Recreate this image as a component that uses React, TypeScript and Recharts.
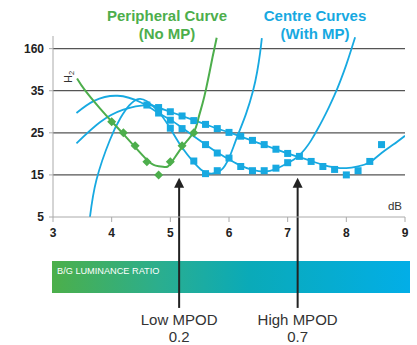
import React from "react";
import { ComposedChart, Line, Scatter, XAxis, YAxis, CartesianGrid, ReferenceLine } from "recharts";

// y values are plotted on an evenly spaced index scale: 5 -> 0, 15 -> 1, 25 -> 2, 35 -> 3, 160 -> 4
const yLabels = ["5", "15", "25", "35", "160"];
const xTicks = [3, 4, 5, 6, 7, 8, 9];

// fitted curves [dB, index]
const peripheralCurve = [
  [3.41, 3.29], [3.55, 3.0], [3.8, 2.58], [4.0, 2.27], [4.2, 1.97], [4.4, 1.66], [4.6, 1.36],
  [4.75, 1.22], [4.9, 1.19], [5.0, 1.26], [5.2, 1.66], [5.4, 2.02], [5.48, 2.35], [5.55, 2.7],
  [5.61, 3.05], [5.67, 3.45], [5.72, 3.8], [5.76, 4.06], [5.79, 4.26],
];
const lowCurve = [
  [3.63, 0], [3.74, 0.88], [3.97, 1.83], [4.15, 2.35], [4.3, 2.65], [4.45, 2.8], [4.6, 2.75],
  [4.8, 2.5], [5.0, 2.1], [5.2, 1.65], [5.4, 1.3], [5.55, 1.1], [5.7, 1.03], [5.85, 1.1],
  [5.93, 1.22], [6.0, 1.4], [6.08, 1.68], [6.16, 1.98], [6.29, 2.45], [6.41, 3.0], [6.48, 3.45],
  [6.53, 3.9], [6.56, 4.25],
];
const midCurve = [
  [3.4, 2.47], [3.7, 2.76], [4.1, 2.88], [4.5, 2.72], [4.8, 2.47], [5.0, 2.31], [5.2, 2.12],
  [5.4, 1.92], [5.6, 1.72], [5.8, 1.53], [6.0, 1.37], [6.2, 1.22], [6.4, 1.12], [6.6, 1.08],
  [6.8, 1.14], [7.0, 1.28], [7.1, 1.36], [7.2, 1.47], [7.3, 1.62], [7.4, 1.82], [7.5, 2.06],
  [7.6, 2.32], [7.7, 2.6], [7.8, 2.9], [7.9, 3.24], [8.0, 3.62], [8.08, 3.96], [8.15, 4.27],
];
const highCurve = [
  [3.4, 1.75], [3.8, 2.25], [4.2, 2.55], [4.6, 2.66], [4.8, 2.6], [5.0, 2.5], [5.2, 2.4],
  [5.4, 2.3], [5.6, 2.2], [5.8, 2.1], [6.0, 2.01], [6.2, 1.91], [6.4, 1.81], [6.6, 1.71],
  [6.8, 1.61], [7.0, 1.51], [7.2, 1.42], [7.4, 1.33], [7.6, 1.24], [7.8, 1.18], [8.0, 1.16],
  [8.2, 1.2], [8.4, 1.3], [8.6, 1.52], [8.8, 1.72], [9.0, 1.93],
];

// measured points
const peripheralPoints = [
  [4.0, 2.26], [4.2, 2.0], [4.4, 1.69], [4.6, 1.31], [4.8, 1.0], [5.0, 1.31], [5.2, 1.69], [5.4, 2.0],
];
const lowPoints = [[4.6, 2.66], [4.8, 2.47], [5.0, 2.11], [5.4, 1.33], [5.6, 1.03], [5.8, 1.1], [6.0, 1.4]];
const midPoints = [
  [5.0, 2.3], [5.2, 2.1], [5.6, 1.72], [5.8, 1.52], [6.2, 1.2], [6.4, 1.1], [6.6, 1.1],
  [6.8, 1.16], [7.0, 1.29], [7.2, 1.44],
];
const highPoints = [
  [4.8, 2.6], [5.0, 2.5], [5.2, 2.4], [5.4, 2.29], [5.6, 2.2], [5.8, 2.1], [6.0, 2.01], [6.2, 1.92],
  [6.4, 1.82], [6.6, 1.72], [6.8, 1.61], [7.0, 1.51], [7.4, 1.32], [7.6, 1.2], [7.8, 1.13],
  [8.0, 1.0], [8.2, 1.1], [8.4, 1.32], [8.6, 1.72],
];

const mpodMarkers = [
  { x: 5.15, tip: 0.93, label: "Low MPOD", value: "0.2" },
  { x: 7.17, tip: 0.93, label: "High MPOD", value: "0.7" },
];

const BLUE = "#17A9E1";
const GREEN = "#4DAE4C";
const FONT = "'Liberation Sans', Arial, Helvetica, sans-serif";

const toRows = (pts: number[][]) => pts.map(([x, y]) => ({ x, y }));

const square = (p: any) => <rect x={p.cx - 3.5} y={p.cy - 3.5} width={7} height={7} fill={BLUE} />;
const diamond = (p: any) => (
  <polygon
    points={`${p.cx},${p.cy - 4.5} ${p.cx + 4.5},${p.cy} ${p.cx},${p.cy + 4.5} ${p.cx - 4.5},${p.cy}`}
    fill={GREEN}
  />
);

function arrow(label: string, value: string) {
  return (p: any) => {
    const { x1, y1, y2 } = p;
    return (
      <g>
        <line x1={x1} y1={y1 + 8} x2={x1} y2={y2} stroke="#222" strokeWidth={2} />
        <polygon points={`${x1},${y1} ${x1 + 5},${y1 + 10} ${x1 - 5},${y1 + 10}`} fill="#222" />
        <text x={x1} y={y2 + 17} textAnchor="middle" fontSize={15} fill="#333" fontFamily={FONT}>
          {label}
        </text>
        <text x={x1} y={y2 + 34} textAnchor="middle" fontSize={15} fill="#333" fontFamily={FONT}>
          {value}
        </text>
      </g>
    );
  };
}

export default function App() {
  const tickStyle = { fill: "#222", fontSize: 12, fontWeight: 700, fontFamily: FONT };
  return (
    <div style={{ position: "absolute", left: 0, top: 0, width: 417, height: 345, background: "#fff" }}>
      <svg width={417} height={345} style={{ position: "absolute", left: 0, top: 0 }}>
        <defs>
          <linearGradient id="bg" x1="0" x2="1" y1="0" y2="0">
            <stop offset="0" stopColor="#4CAF4A" />
            <stop offset="0.3" stopColor="#2BAE8E" />
            <stop offset="0.55" stopColor="#0AAAB8" />
            <stop offset="1" stopColor="#02AEE7" />
          </linearGradient>
        </defs>
        <rect x={52} y={261} width={358} height={32} fill="url(#bg)" />
        <text x={57} y={274} fontSize={9.2} fill="#fff" fontFamily={FONT}>
          B/G LUMINANCE RATIO
        </text>
      </svg>
      <div style={{ position: "absolute", left: 0, top: 0 }}>
        <ComposedChart width={417} height={345} margin={{ top: 36, right: 12, bottom: 98, left: 8 }}>
          <CartesianGrid vertical={false} horizontalValues={[1, 2, 3, 4]} stroke="#555" strokeWidth={1.2} />
          <XAxis
            type="number"
            dataKey="x"
            domain={[3, 9]}
            ticks={xTicks}
            allowDataOverflow
            height={30}
            tick={tickStyle}
            tickSize={5}
            tickMargin={6}
            axisLine={{ stroke: "#aaa" }}
            tickLine={{ stroke: "#aaa" }}
          />
          <YAxis
            type="number"
            dataKey="y"
            domain={[0, 4.3]}
            ticks={[0, 1, 2, 3, 4]}
            allowDataOverflow
            width={45}
            tick={tickStyle}
            tickSize={4}
            tickMargin={5}
            tickFormatter={(v: number) => yLabels[v]}
            axisLine={{ stroke: "#aaa" }}
            tickLine={{ stroke: "#aaa" }}
          />
          <Line data={toRows(lowCurve)} dataKey="y" type="natural" stroke={BLUE} strokeWidth={1.8} dot={false} isAnimationActive={false} />
          <Line data={toRows(midCurve)} dataKey="y" type="natural" stroke={BLUE} strokeWidth={1.8} dot={false} isAnimationActive={false} />
          <Line data={toRows(highCurve)} dataKey="y" type="natural" stroke={BLUE} strokeWidth={1.8} dot={false} isAnimationActive={false} />
          <Scatter data={toRows(lowPoints)} dataKey="y" shape={square} isAnimationActive={false} />
          <Scatter data={toRows(midPoints)} dataKey="y" shape={square} isAnimationActive={false} />
          <Scatter data={toRows(highPoints)} dataKey="y" shape={square} isAnimationActive={false} />
          <Line data={toRows(peripheralCurve)} dataKey="y" type="natural" stroke={GREEN} strokeWidth={2} dot={false} isAnimationActive={false} />
          <Scatter data={toRows(peripheralPoints)} dataKey="y" shape={diamond} isAnimationActive={false} />
          {mpodMarkers.map((m) => (
            <ReferenceLine
              key={m.label}
              segment={[{ x: m.x, y: m.tip }, { x: m.x, y: -2.16 }]}
              ifOverflow="visible"
              shape={arrow(m.label, m.value)}
            />
          ))}
        </ComposedChart>
      </div>
      <svg width={417} height={345} style={{ position: "absolute", left: 0, top: 0, pointerEvents: "none" }}>
        <g fontFamily={FONT} fontWeight={700} fontSize={15} textAnchor="middle">
          <text x={167} y={20.5} fill={GREEN}>Peripheral Curve</text>
          <text x={167} y={38.5} fill={GREEN}>(No MP)</text>
          <text x={315} y={20.5} fill={BLUE}>Centre Curves</text>
          <text x={315} y={38.5} fill={BLUE}>(With MP)</text>
        </g>
        <text transform="translate(71.5,83) rotate(-90)" fontSize={11} fill="#333" fontFamily={FONT}>
          H<tspan fontSize={7.5} dy={2.5}>2</tspan>
        </text>
        <text x={402} y={210} textAnchor="end" fontSize={11.5} fill="#333" fontFamily={FONT}>
          dB
        </text>
      </svg>
    </div>
  );
}
